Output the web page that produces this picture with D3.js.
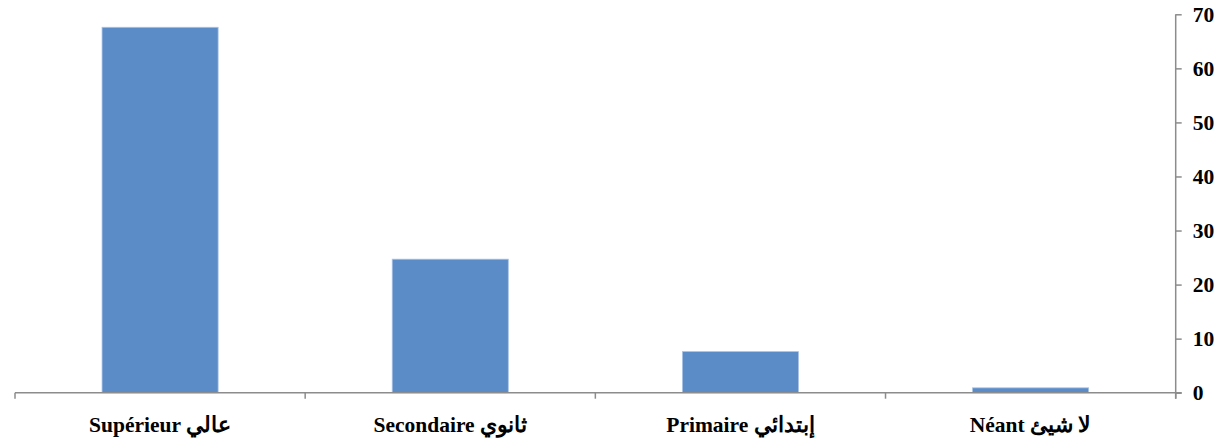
<!DOCTYPE html>
<html>
<head>
<meta charset="utf-8">
<script src="https://cdn.jsdelivr.net/npm/d3@7"></script>
<style>
  html, body { margin: 0; padding: 0; background: #fff; }
  svg { display: block; }
  text { font-family: "Liberation Serif", "Times New Roman", "DejaVu Serif", serif; font-weight: bold; fill: #000; }
</style>
</head>
<body>
<svg id="chart" width="1220" height="442"></svg>
<script>
const categories = ["Supérieur عالي", "Secondaire ثانوي", "Primaire إبتدائي", "Néant لا شيئ"];
const values = [67.6, 24.7, 7.6, 0.9];
const yTicks = [0, 10, 20, 30, 40, 50, 60, 70];

const svg = d3.select("#chart");
const plotLeft = 15, plotRight = 1175.7, plotTop = 14.3, plotBottom = 392.7;

const x = d3.scaleBand().domain(categories).range([plotLeft, plotRight]).paddingInner(0.6).paddingOuter(0.3);
const xTickScale = d3.scaleLinear().domain([0, categories.length]).range([plotLeft, plotRight]);
const y = d3.scaleLinear().domain([0, 70]).range([plotBottom, plotTop]);

// bars
svg.append("g").selectAll("rect").data(values).join("rect")
  .attr("x", (d, i) => x(categories[i]))
  .attr("y", d => y(d))
  .attr("width", x.bandwidth())
  .attr("height", d => y(0) - y(d))
  .attr("fill", "#5b8cc8")
  .attr("stroke", "#a9c3e4")
  .attr("stroke-width", 0.8);

const axisColor = "#8c8c8c";

// x axis line
svg.append("line")
  .attr("x1", plotLeft).attr("x2", plotRight + 6)
  .attr("y1", plotBottom).attr("y2", plotBottom)
  .attr("stroke", axisColor).attr("stroke-width", 1.5);

// x category ticks
svg.append("g").selectAll("line").data(d3.range(categories.length + 1)).join("line")
  .attr("x1", d => xTickScale(d)).attr("x2", d => xTickScale(d))
  .attr("y1", plotBottom).attr("y2", plotBottom + 6)
  .attr("stroke", axisColor).attr("stroke-width", 1.5);

// x labels
svg.append("g").selectAll("text").data(categories).join("text")
  .attr("x", d => x(d) + x.bandwidth() / 2)
  .attr("y", 432)
  .attr("text-anchor", "middle")
  .attr("direction", "ltr")
  .style("font-size", "21.5px")
  .text(d => d);

// y axis (right side)
const yAxis = d3.axisRight(y).tickValues(yTicks).tickSize(6).tickPadding(11).tickFormat(d3.format("d"));
const gy = svg.append("g").attr("transform", `translate(${plotRight},0)`).call(yAxis);
gy.select(".domain").attr("stroke", axisColor).attr("stroke-width", 1.5)
  .attr("d", `M0,${plotTop}V${plotBottom + 6}`);
gy.selectAll(".tick line").attr("stroke", axisColor).attr("stroke-width", 1.5);
gy.selectAll(".tick text")
  .attr("fill", "#000")
  .style("font-family", '"Liberation Serif", "Times New Roman", serif')
  .style("font-weight", "bold")
  .style("font-size", "21.5px");
</script>
</body>
</html>
